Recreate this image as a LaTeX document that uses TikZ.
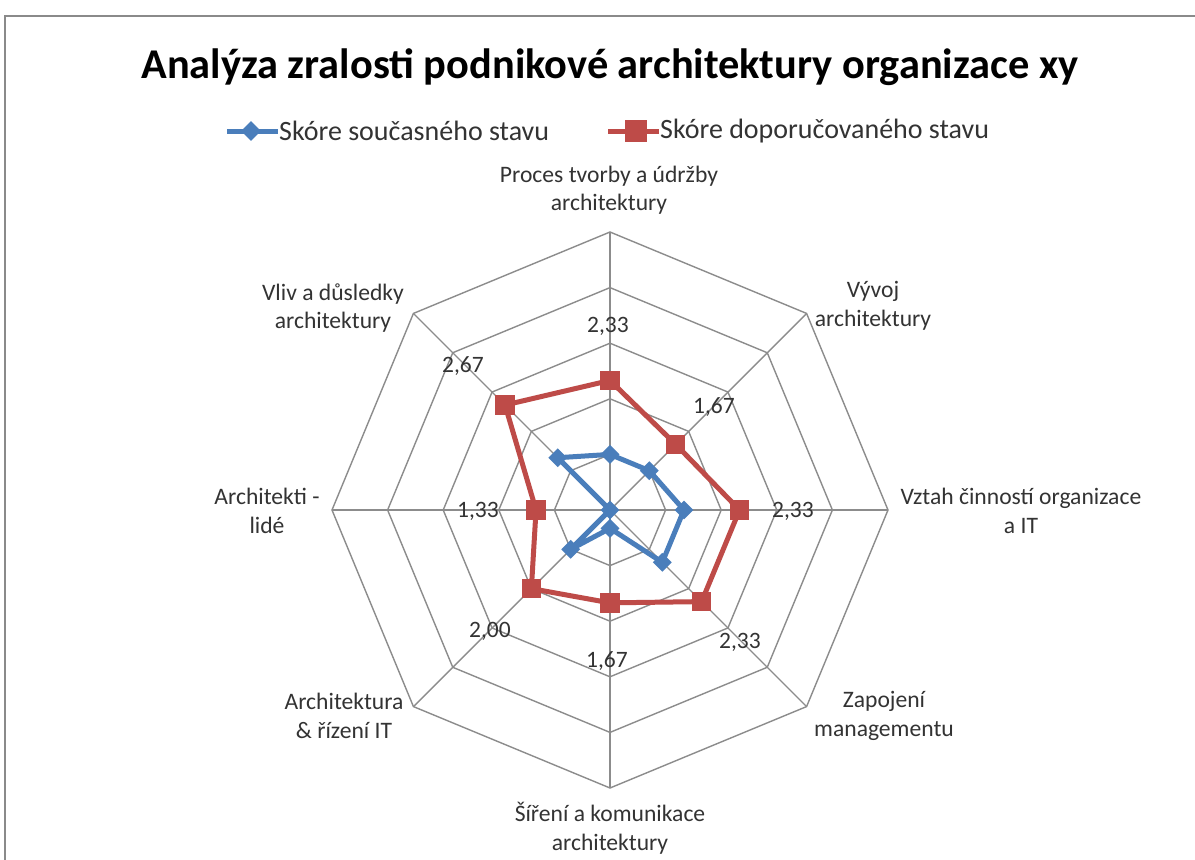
\documentclass[tikz,border=0pt]{standalone}
\usepackage{fontspec}
\setmainfont{Carlito}
\usetikzlibrary{calc,shapes.geometric}
\definecolor{serblue}{HTML}{4A7EBB}
\definecolor{serred}{HTML}{BE4B48}
\definecolor{gridgray}{HTML}{8C8C8C}
\definecolor{txt}{HTML}{333333}
\definecolor{framegray}{HTML}{8A8A8A}
\begin{document}
\begin{tikzpicture}[x=1pt,y=1pt,
  grid/.style={draw=gridgray,line width=1.4pt,line join=miter},
  cat/.style={align=center,font=\fontsize{23.6}{28.5}\selectfont,text=txt,inner sep=0pt},
  val/.style={font=\fontsize{23.5}{26}\selectfont,text=txt,inner sep=0pt},
  legtext/.style={anchor=west,font=\fontsize{28}{32}\selectfont,text=txt,inner sep=0pt},
  blueline/.style={draw=serblue,line width=5pt,line join=round},
  redline/.style={draw=serred,line width=5pt,line join=round},
  bluemark/.style={diamond,fill=serblue,minimum width=19pt,minimum height=19pt,inner sep=0pt},
  redmark/.style={rectangle,fill=serred,minimum size=19.5pt,inner sep=0pt}
]
\useasboundingbox (0,0) rectangle (1195,-860);
\fill[white] (0,0) rectangle (1195,-860);
% frame
\draw[framegray,line width=2pt] (5,-860) -- (5,-16) -- (1195,-16);
% title
\node[font=\fontsize{42.4}{48}\selectfont\bfseries,inner sep=0pt] (title) at (610,-67) {Analýza zralosti podnikové architektury organizace xy};
% legend
\coordinate (lb1) at (227,-131); \coordinate (lb2) at (278,-131);
\draw[blueline] (lb1) -- (lb2);
\node[bluemark,minimum width=20pt,minimum height=20pt] (lbm) at (251,-131) {};
\node[legtext] (lbt) at (279,-131) {Skóre současného stavu};
\coordinate (lr1) at (608,-131); \coordinate (lr2) at (659,-131);
\draw[redline] (lr1) -- (lr2);
\node[redmark,minimum size=22pt] (lrm) at (636,-131) {};
\node[legtext] (lrt) at (660,-131) {Skóre doporučovaného stavu};
% radar
\begin{scope}[shift={(610,-510)}]
  \coordinate (C) at (0,0);
  \foreach \a in {0,45,...,315} \draw[grid] (C) -- (\a:278);
  \foreach \k in {1,...,5}
    \draw[grid] (90:\k*55.6) -- (45:\k*55.6) -- (0:\k*55.6) -- (-45:\k*55.6) -- (-90:\k*55.6) -- (-135:\k*55.6) -- (180:\k*55.6) -- (135:\k*55.6) -- cycle;
  % red series
  \coordinate (r1) at (90:2.33*55.6);
  \coordinate (r2) at (45:1.67*55.6);
  \coordinate (r3) at (0:2.33*55.6);
  \coordinate (r4) at (-45:2.33*55.6);
  \coordinate (r5) at (-90:1.67*55.6);
  \coordinate (r6) at (-135:2.00*55.6);
  \coordinate (r7) at (180:1.33*55.6);
  \coordinate (r8) at (135:2.67*55.6);
  % blue series
  \coordinate (b1) at (90:1.00*55.6);
  \coordinate (b2) at (45:1.00*55.6);
  \coordinate (b3) at (0:1.33*55.6);
  \coordinate (b4) at (-45:1.33*55.6);
  \coordinate (b5) at (-90:0.33*55.6);
  \coordinate (b6) at (-135:1.00*55.6);
  \coordinate (b7) at (180:0.00*55.6);
  \coordinate (b8) at (135:1.33*55.6);
  \draw[blueline] (b1) -- (b2) -- (b3) -- (b4) -- (b5) -- (b6) -- (b7) -- (b8) -- cycle;
  \foreach \i in {1,...,8} \node[bluemark] (bm\i) at (b\i) {};
  \draw[redline] (r1) -- (r2) -- (r3) -- (r4) -- (r5) -- (r6) -- (r7) -- (r8) -- cycle;
  \foreach \i in {1,...,8} \node[redmark] (rm\i) at (r\i) {};
\end{scope}
% value labels
\node[val] (v1) at (608,-326) {2,33};
\node[val] (v2) at (714,-407) {1,67};
\node[val] (v3) at (793,-511) {2,33};
\node[val] (v4) at (740,-642) {2,33};
\node[val] (v5) at (607,-661) {1,67};
\node[val] (v6) at (490,-631) {2,00};
\node[val] (v7) at (478,-511) {1,33};
\node[val] (v8) at (463,-366) {2,67};
% category labels
\node[cat] (c1) at (609,-190) {Proces tvorby a údržby\\architektury};
\node[cat] (c2) at (873,-306) {Vývoj\\architektury};
\node[cat] (c3) at (1021,-511) {Vztah činností organizace\\a IT};
\node[cat] (c4) at (884,-716) {Zapojení\\managementu};
\node[cat] (c5) at (610,-828) {Šíření a komunikace\\architektury};
\node[cat] (c6) at (344,-716) {Architektura\\\& řízení IT};
\node[cat] (c7) at (267,-511) {Architekti -\\lidé};
\node[cat] (c8) at (333,-308) {Vliv a důsledky\\architektury};
\end{tikzpicture}
\end{document}
